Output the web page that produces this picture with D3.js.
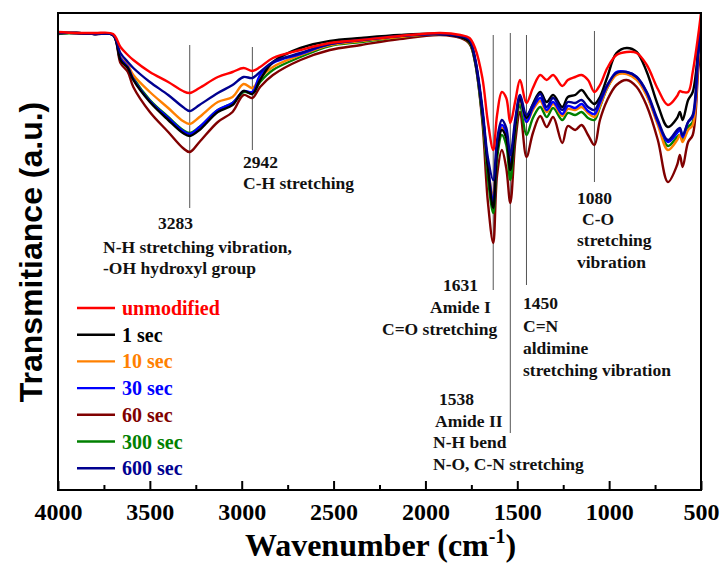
<!DOCTYPE html>
<html>
<head>
<meta charset="utf-8">
<script src="https://cdn.jsdelivr.net/npm/d3@7"></script>
<style>
  body { margin: 0; background: #fff; }
  svg { display: block; }
</style>
</head>
<body>
<div id="ftir"></div>
<script>
// wavenumbers (cm-1) shared by every spectrum
var wavenumbers = [4000, 3900, 3800, 3700, 3660, 3620, 3590, 3500, 3400, 3320,
    3283, 3230, 3130, 3050, 2990, 2942, 2900, 2830, 2680, 2520,
    2350, 2140, 1920, 1810, 1760, 1730, 1690, 1660, 1631, 1610,
    1584, 1560, 1538, 1510, 1485, 1450, 1415, 1375, 1340, 1305,
    1255, 1225, 1185, 1150, 1115, 1080, 1050, 1010, 960, 905,
    850, 795, 735, 680, 630, 615, 600, 570, 545, 515, 500];

// transmittance, arbitrary units
var unmodified = [91.6, 91.4, 91.4, 91.2, 88.6, 87.0, 86.0, 83.6, 81.6, 79.8,
    79.4, 80.4, 82.6, 83.6, 84.4, 83.8, 84.6, 86.4, 88.0, 89.4,
    90.0, 90.8, 91.4, 91.0, 90.4, 88.4, 82.4, 73.6, 68.0, 75.0,
    79.6, 78.4, 73.4, 78.0, 82.0, 77.4, 80.4, 83.0, 82.0, 83.0,
    80.8, 82.0, 82.6, 83.0, 82.0, 79.6, 81.0, 84.4, 87.0, 87.6,
    87.4, 85.0, 80.2, 77.0, 78.8, 79.8, 79.6, 79.6, 83.6, 91.0, 95.4];
var sec1 = [91.4, 91.4, 91.2, 91.0, 86.0, 84.4, 82.0, 77.6, 74.0, 71.4,
    70.8, 72.0, 75.6, 77.0, 79.8, 79.2, 82.0, 85.6, 88.4, 89.8,
    90.4, 91.0, 91.2, 90.6, 89.6, 86.0, 75.6, 64.4, 56.4, 67.6,
    72.0, 70.4, 64.0, 73.0, 78.4, 74.4, 77.2, 79.6, 77.6, 79.0,
    76.6, 78.6, 79.0, 80.0, 78.4, 77.2, 78.6, 82.6, 87.4, 88.4,
    87.6, 83.6, 77.0, 72.6, 74.4, 75.6, 74.0, 78.0, 79.6, 88.0, 93.0];
var sec10 = [91.4, 91.4, 91.2, 91.0, 86.6, 85.0, 83.0, 79.6, 76.4, 73.8,
    73.2, 74.6, 77.6, 78.6, 81.2, 80.4, 82.4, 84.6, 87.0, 89.0,
    89.8, 90.6, 91.2, 90.6, 89.6, 86.0, 75.6, 64.4, 59.0, 68.0,
    72.4, 70.8, 65.6, 73.0, 78.0, 73.6, 76.0, 77.8, 75.6, 77.2,
    74.8, 76.2, 76.0, 76.6, 75.4, 74.6, 76.8, 80.4, 83.0, 83.2,
    82.0, 78.8, 73.0, 68.0, 70.0, 71.0, 69.6, 72.0, 73.0, 86.0, 91.0];
var sec30 = [91.4, 91.4, 91.2, 91.0, 86.4, 84.6, 82.2, 77.8, 74.4, 71.8,
    71.2, 72.6, 76.0, 77.4, 79.8, 79.6, 83.0, 85.4, 87.2, 89.2,
    90.0, 90.8, 91.2, 90.6, 89.8, 86.0, 75.6, 65.0, 57.6, 68.4,
    73.0, 71.4, 65.0, 73.6, 78.4, 73.6, 76.4, 78.4, 76.0, 77.6,
    75.2, 76.8, 76.4, 77.2, 75.8, 75.2, 77.4, 80.8, 83.6, 83.6,
    82.6, 79.4, 73.6, 69.6, 71.4, 72.0, 70.6, 73.6, 74.6, 87.0, 92.0];
var sec60 = [91.4, 91.4, 91.2, 91.0, 85.4, 83.6, 80.6, 75.6, 71.6, 68.4,
    67.6, 69.6, 73.6, 75.6, 79.0, 78.4, 80.6, 83.0, 86.0, 88.0,
    89.0, 90.2, 91.0, 90.4, 89.2, 85.6, 73.6, 57.6, 49.4, 63.0,
    68.0, 64.4, 57.4, 70.0, 75.6, 66.6, 71.4, 74.8, 72.6, 74.6,
    69.4, 72.8, 72.0, 73.0, 71.0, 69.0, 74.0, 78.0, 81.0, 82.0,
    80.6, 76.8, 70.0, 61.6, 65.0, 67.0, 64.6, 69.6, 71.0, 84.0, 89.0];
var sec300 = [91.2, 91.4, 91.2, 91.0, 86.4, 84.6, 82.4, 78.0, 74.6, 72.0,
    71.4, 72.6, 76.0, 77.4, 79.6, 79.4, 81.6, 84.0, 86.6, 88.8,
    89.6, 90.6, 91.2, 90.6, 89.4, 85.6, 74.4, 62.4, 55.4, 66.4,
    71.0, 69.0, 62.0, 72.0, 77.0, 71.0, 74.4, 76.6, 74.6, 76.4,
    74.0, 75.4, 75.0, 75.6, 74.4, 74.0, 76.6, 80.4, 83.2, 83.4,
    82.4, 79.0, 73.4, 68.8, 70.6, 71.0, 70.0, 72.6, 73.6, 89.0, 93.0];
var sec600 = [91.4, 91.4, 91.2, 91.0, 87.4, 85.6, 84.4, 81.6, 79.0, 76.6,
    75.8, 77.0, 79.4, 81.0, 82.6, 82.4, 83.6, 85.6, 87.4, 89.2,
    90.0, 90.8, 91.2, 90.8, 90.0, 86.4, 76.4, 66.4, 62.0, 70.0,
    74.0, 72.4, 67.0, 74.4, 79.0, 75.0, 77.0, 79.2, 76.6, 78.4,
    76.0, 77.6, 77.4, 78.0, 76.6, 76.0, 78.0, 81.0, 83.4, 83.6,
    82.6, 79.6, 74.0, 70.0, 72.0, 72.4, 71.0, 73.6, 75.0, 88.0, 92.0];

var seriesNames = ["unmodified", "1 sec", "10 sec", "30 sec", "60 sec", "300 sec", "600 sec"];
var seriesValues = [unmodified, sec1, sec10, sec30, sec60, sec300, sec600];
var seriesColors = ["#ff0000", "#000000", "#ff8000", "#0000ff", "#800000", "#008000", "#000090"];

var xTicks = [4000, 3500, 3000, 2500, 2000, 1500, 1000, 500];
var xMinorTicks = [3750, 3250, 2750, 2250, 1750, 1250, 750];

// band assignments
var bandWavenumbers = [3283, 2942, 1631, 1538, 1450, 1080];
var bandLabels = [
    ["3283", "N-H stretching vibration,", "-OH hydroxyl group"],
    ["2942", "C-H stretching"],
    ["1631", "Amide I", "C=O stretching"],
    ["1538", "Amide II", "N-H bend", "N-O, C-N stretching"],
    ["1450", "C=N", "aldimine", "stretching vibration"],
    ["1080", "C-O", "stretching", "vibration"]
];

function drawFtir() {

    var margin = {top: 13, right: 20, bottom: 74, left: 58},
    width = 721 - margin.left - margin.right,
    height = 564 - margin.top - margin.bottom;

    var svg = d3.select("#ftir")
        .append("svg")
        .attr("width", width + margin.left + margin.right)
        .attr("height", height + margin.top + margin.bottom)
        .append("g")
        .attr("transform", "translate(" + margin.left + "," + margin.top + ")");

    var x = d3.scaleLinear()
        .domain([4000, 500])
        .range([0, width]);

    var y = d3.scaleLinear()
        .domain([0, 95.4])
        .range([height, 0]);

    svg.append("clipPath")
        .attr("id", "plotclip")
        .append("rect")
        .attr("width", width)
        .attr("height", height);

    // label layout in pixels: line top / bottom, then text lines [x, baseline]
    var bandLayout = [
        {top: 32, bottom: 195, text: [[100, 216], [45, 240], [45, 261]]},
        {top: 34, bottom: 137, text: [[185, 155], [185, 176]]},
        {top: 22, bottom: 277, text: [[385, 278], [372, 300], [324, 322]]},
        {top: 20, bottom: 420, text: [[381, 392], [377, 414], [375, 435], [375, 457]]},
        {top: 22, bottom: 272, text: [[465, 296], [465, 319], [465, 341], [465, 363]]},
        {top: 18, bottom: 169, text: [[519, 191], [524, 212], [519, 233], [519, 255]]}
    ];

    bandWavenumbers.forEach(function(wn, i) {
        var lay = bandLayout[i];
        svg.append("line")
            .attr("x1", x(wn)).attr("x2", x(wn))
            .attr("y1", lay.top).attr("y2", lay.bottom)
            .style("stroke", "#555")
            .style("stroke-width", 1);
    });

    var line = d3.line()
        .x(function(d, i) { return x(wavenumbers[i]); })
        .y(function(d) { return y(d); })
        .curve(d3.curveCatmullRom.alpha(0.5));

    var drawOrder = [4, 5, 2, 3, 1, 6, 0];
    drawOrder.forEach(function(k) {
        svg.append("path")
            .datum(seriesValues[k])
            .attr("clip-path", "url(#plotclip)")
            .attr("d", line)
            .style("fill", "none")
            .style("stroke", seriesColors[k])
            .style("stroke-width", 2.4)
            .style("stroke-linejoin", "round");
    });

    bandLabels.forEach(function(lines, i) {
        var lay = bandLayout[i];
        lines.forEach(function(t, j) {
            svg.append("text")
                .attr("x", lay.text[j][0])
                .attr("y", lay.text[j][1])
                .style("font-family", "'Liberation Serif', 'Times New Roman', serif")
                .style("font-weight", "bold")
                .style("font-size", "17.5px")
                .style("fill", "#111")
                .text(t);
        });
    });

    // frame
    svg.append("rect")
        .attr("width", width)
        .attr("height", height)
        .style("fill", "none")
        .style("stroke", "#000")
        .style("stroke-width", 2);

    var xAxis = svg.append("g")
        .attr("transform", "translate(0," + height + ")")
        .call(d3.axisBottom(x)
            .tickValues(xTicks)
            .tickSizeInner(-9)
            .tickSizeOuter(0)
            .tickPadding(13)
            .tickFormat(d3.format("d")));
    xAxis.select(".domain").remove();
    xAxis.selectAll(".tick line").style("stroke-width", 2);
    xAxis.selectAll("text")
        .style("font-family", "'Liberation Serif', 'Times New Roman', serif")
        .style("font-weight", "bold")
        .style("font-size", "24px")
        .style("fill", "#000");

    var xMinor = svg.append("g")
        .attr("transform", "translate(0," + height + ")")
        .call(d3.axisBottom(x)
            .tickValues(xMinorTicks)
            .tickSizeInner(-5)
            .tickSizeOuter(0)
            .tickFormat(""));
    xMinor.select(".domain").remove();
    xMinor.selectAll(".tick line").style("stroke-width", 2);

    var xTitle = svg.append("text")
        .attr("x", width / 2 + 1)
        .attr("y", height + 66)
        .style("text-anchor", "middle")
        .style("font-family", "'Liberation Serif', 'Times New Roman', serif")
        .style("font-weight", "bold")
        .style("font-size", "32px");
    xTitle.append("tspan").text("Wavenumber (cm");
    xTitle.append("tspan").attr("dy", -13).style("font-size", "20px").text("-1");
    xTitle.append("tspan").attr("dy", 13).text(")");

    svg.append("text")
        .attr("transform", "rotate(-90)")
        .attr("x", -(252 - margin.top))
        .attr("y", 42 - margin.left)
        .style("text-anchor", "middle")
        .style("font-family", "'Liberation Sans', Arial, sans-serif")
        .style("font-weight", "bold")
        .style("font-size", "32px")
        .text("Transmitiance (a.u.)");

    // legend
    var legend = svg.selectAll(".legend")
        .data(seriesNames)
        .enter().append("g")
        .attr("class", "legend")
        .attr("transform", function(d, i) {
            return "translate(19," + (295 + i * 26.7) + ")";
        });

    legend.append("line")
        .attr("x1", 0).attr("x2", 38)
        .style("stroke", function(d, i) { return seriesColors[i]; })
        .style("stroke-width", 2.4);

    legend.append("text")
        .attr("x", 45)
        .attr("y", 7)
        .style("font-family", "'Liberation Serif', 'Times New Roman', serif")
        .style("font-weight", "bold")
        .style("font-size", "20px")
        .style("fill", function(d, i) { return seriesColors[i]; })
        .text(function(d) { return d; });
}

drawFtir();
</script>
</body>
</html>
